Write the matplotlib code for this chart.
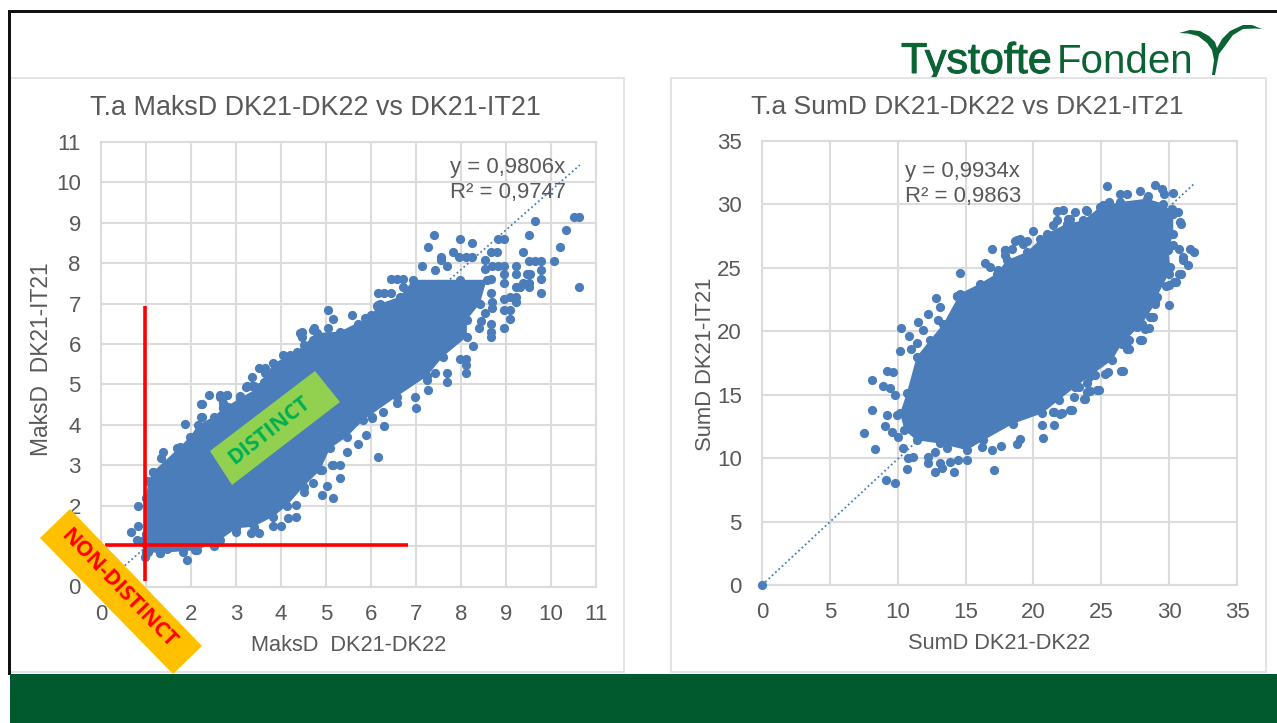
import matplotlib
matplotlib.use('Agg')
import matplotlib.pyplot as plt
import matplotlib.patheffects as pe
from matplotlib.patches import Polygon, Rectangle

plt.rcParams['font.family'] = ['Liberation Sans', 'DejaVu Sans']

GRAY = '#595959'
GRID = '#dcdcdc'
BLUE = '#4a7dba'
DARK_GREEN = '#005a2e'
LOGO_GREEN = '#0b6333'

# Left chart: outline of the dense cloud
maks_cloud_x = [1.0, 1.0, 1.05, 1.16, 1.76, 1.98, 2.16, 2.5, 2.72, 3.09, 3.53, 3.83, 4.35, 4.79, 5.31, 5.98,
                6.2, 6.64, 6.94, 7.98, 8.57, 8.42, 8.13, 8.13, 7.6, 7.24, 6.57, 5.83, 5.46, 5.09, 4.87,
                4.5, 4.13, 3.83, 3.39, 3.01, 2.64, 2.13, 1.31, 1.0, 0.8]
maks_cloud_y = [1.3, 2.2, 2.6, 2.84, 3.46, 3.71, 4.0, 4.2, 4.41, 4.66, 4.94, 5.52, 5.81, 6.27, 6.31, 6.68,
                7.0, 7.17, 7.59, 7.59, 7.59, 7.0, 6.6, 6.18, 5.69, 5.2, 4.7, 4.12, 3.7, 3.42, 2.88,
                2.47, 2.0, 1.73, 1.48, 1.44, 1.15, 0.9, 0.83, 0.85, 1.15]

# Left chart: points outside the dense cloud
maks_x = [10.63, 10.50, 9.64, 10.33, 9.51, 7.41, 7.98, 8.24, 8.83, 8.96, 7.27, 10.21, 8.67, 8.80, 9.38,
          7.83, 7.96, 8.10, 8.24, 7.55, 7.55, 8.54, 9.51, 9.64, 9.78, 10.07, 7.13, 7.42, 7.68, 8.54,
          8.68, 8.83, 8.96, 9.23, 9.78, 8.96, 9.23, 9.46, 9.53, 9.78, 8.67, 8.96, 9.38, 9.51, 9.78,
          9.23, 9.31, 9.51, 10.63, 8.67, 8.96, 9.09, 9.23, 9.23, 8.96, 9.09, 9.09, 8.68, 8.68, 8.53,
          8.44, 8.40, 8.67, 8.67, 8.67, 8.96, 8.26, 7.98, 8.12, 8.12, 8.11, 7.68, 7.68, 7.42, 7.24,
          6.99, 6.29, 5.04, 5.16, 5.58, 6.44, 6.57, 6.70, 6.16, 6.29, 6.44, 6.70, 6.16, 4.72, 4.42,
          6.02, 6.27, 6.57, 6.98, 7.27, 0.67, 0.83, 0.83, 0.98, 1.90, 1.83, 2.09, 1.37, 1.34, 1.64,
          1.68, 1.83, 1.87, 1.16, 2.24, 2.39, 2.64, 2.79, 2.24, 2.72, 3.09, 3.24, 3.39, 6.15, 5.72,
          5.88, 5.46, 5.31, 5.31, 5.16, 4.90, 5.03, 4.72, 4.50, 4.33, 4.33, 4.16, 3.99, 3.83, 3.50,
          3.33, 3.01, 2.50, 4.90, 5.16, 2.65, 2.81, 2.72, 2.83, 2.22, 2.22, 3.22, 3.36, 3.36, 3.50,
          3.65, 3.65, 3.62, 4.05, 4.20, 4.50, 4.72, 4.47, 4.47, 4.74, 5.04, 5.72, 5.87, 6.01, 6.14,
          1.05, 1.31, 1.46, 5.13, 6.02]
maks_y = [9.15, 9.15, 9.05, 8.82, 8.70, 8.70, 8.60, 8.49, 8.60, 8.60, 8.40, 8.40, 8.27, 8.27, 8.27,
          8.27, 8.16, 8.16, 8.16, 8.16, 8.07, 8.07, 8.06, 8.06, 8.06, 8.06, 7.94, 7.83, 7.94, 7.85,
          7.92, 7.94, 7.94, 7.94, 7.83, 7.73, 7.73, 7.73, 7.73, 7.61, 7.61, 7.50, 7.50, 7.50, 7.27,
          7.40, 7.40, 7.40, 7.40, 7.27, 7.11, 7.17, 7.17, 7.05, 6.84, 6.84, 6.62, 7.05, 6.89, 6.76,
          6.56, 6.39, 6.50, 6.31, 6.17, 6.39, 5.96, 5.62, 5.62, 5.48, 5.28, 5.28, 5.07, 5.28, 5.11,
          4.41, 3.97, 6.85, 6.62, 6.72, 7.61, 7.61, 7.61, 7.27, 7.27, 7.27, 7.42, 6.97, 6.35, 6.27,
          4.20, 4.33, 4.53, 4.70, 4.86, 1.34, 2.00, 1.50, 0.74, 0.65, 0.86, 0.90, 3.34, 3.17, 3.17,
          3.42, 3.38, 4.01, 2.84, 4.52, 4.74, 4.74, 4.74, 4.20, 4.53, 4.71, 4.95, 4.95, 3.20, 3.53,
          3.75, 3.34, 3.00, 2.68, 2.20, 2.26, 2.49, 2.55, 2.35, 2.02, 1.73, 1.69, 1.50, 1.50, 1.33,
          1.33, 1.34, 1.00, 2.88, 3.00, 4.70, 4.74, 4.45, 4.45, 4.52, 4.19, 4.94, 4.96, 5.19, 5.40,
          5.40, 5.29, 5.07, 5.73, 5.73, 5.98, 6.10, 6.29, 6.17, 6.39, 6.39, 6.50, 6.64, 6.72, 6.94,
          0.86, 0.82, 0.94, 3.00, 4.16]

# Right chart: outline of the dense cloud
sum_cloud_x = [10.17, 10.66, 11.4, 12.38, 13.37, 14.59, 16.06, 17.29, 18.03, 19.5, 20.98, 22.45, 23.68, 24.9,
               26.38, 28.35, 29.58, 30.3, 30.3, 29.95, 30.07, 29.97, 29.09, 28.98, 28.0, 26.53, 25.79,
               24.07, 23.09, 21.86, 20.63, 18.53, 16.31, 15.09, 13.12, 11.4, 10.5]
sum_cloud_y = [13.52, 15.1, 18.0, 19.3, 20.6, 22.97, 23.76, 24.54, 25.59, 26.25, 27.7, 28.48, 28.74, 29.79,
               30.19, 30.45, 30.06, 29.27, 27.7, 26.38, 25.07, 24.54, 22.7, 22.18, 20.6, 19.03, 17.72,
               16.4, 15.62, 14.57, 13.52, 12.73, 11.4, 10.63, 11.16, 11.4, 12.2]

# Right chart: points outside the dense cloud
sum_x = [25.4, 28.96, 29.46, 29.63, 30.27, 26.38, 26.88, 27.86, 28.47, 21.7, 22.2, 23.07, 21.7, 21.47,
         22.7, 23.9, 19.95, 16.93, 18.77, 19.26, 17.9, 18.4, 16.43, 16.8, 14.59, 12.82, 13.1, 14.4,
         31.54, 31.86, 30.76, 31.0, 31.05, 31.42, 30.7, 30.39, 29.8, 29.97, 30.8, 30.68, 10.25, 10.86,
         11.4, 10.17, 10.96, 9.19, 9.68, 8.13, 8.94, 9.44, 9.8, 8.13, 9.19, 9.98, 9.07, 9.56, 10.05,
         7.54, 8.33, 10.42, 10.79, 11.16, 10.66, 9.14, 9.8, 12.24, 12.26, 12.75, 13.12, 13.24, 14.18,
         17.08, 13.86, 14.47, 15.09, 12.75, 13.61, 16.19, 16.93, 17.62, 18.82, 19.02, 20.69, 20.6,
         21.52, 22.7, 21.97, 21.47, 24.67, 23.69, 23.93, 26.46, 24.55, 25.28, 26.93, 26.88, 11.52,
         12.26, 11.89, 13.0, 14.35, 0.0, 24.86, 26.6, 27.07, 27.07, 28.0, 28.49, 28.79, 29.97, 30.53,
         30.88, 23.77, 24.14, 25.5, 22.96, 23.33, 22.84, 22.1, 21.49, 23.95, 17.37, 17.9, 17.9, 18.64,
         19.0, 19.5, 20.49, 22.58, 23.93, 25.15, 25.57, 30.86, 30.19, 30.3, 29.95, 29.45, 28.96,
         28.59, 28.23, 27.61, 27.86, 26.95]
sum_y = [31.45, 31.55, 31.2, 30.85, 30.9, 30.8, 30.8, 31.05, 30.7, 29.45, 29.53, 29.4, 28.8, 28.35,
         28.87, 29.53, 27.9, 26.46, 27.17, 26.9, 26.4, 26.5, 25.4, 25.07, 24.6, 22.6, 21.9, 22.76,
         26.5, 26.25, 26.5, 25.86, 25.6, 25.2, 24.5, 23.9, 23.6, 22.05, 28.6, 29.4, 20.27, 19.64,
         19.1, 18.43, 18.6, 16.9, 16.8, 16.15, 15.67, 15.49, 14.97, 13.78, 13.44, 13.39, 12.52, 12.08,
         11.68, 12.0, 10.71, 10.77, 9.98, 10.1, 9.11, 8.25, 8.01, 10.11, 9.6, 8.93, 9.6, 9.19, 8.93,
         9.06, 9.72, 9.85, 9.85, 10.5, 10.77, 10.9, 10.63, 10.98, 11.08, 11.5, 11.55, 12.65, 12.6,
         13.8, 13.5, 13.65, 15.36, 14.7, 15.2, 16.88, 16.54, 16.67, 19.35, 18.64, 20.74, 21.4, 20.1,
         20.9, 22.76, 0.0, 15.36, 16.88, 18.64, 19.35, 19.35, 20.29, 21.13, 23.62, 23.89, 24.49,
         14.65, 15.3, 16.8, 14.83, 15.62, 13.78, 13.52, 13.6, 15.93, 24.86, 26.38, 26.0, 27.09, 27.25,
         27.09, 27.3, 28.87, 29.48, 29.92, 30.19, 28.48, 29.66, 26.77, 24.81, 24.41, 22.31, 21.13,
         20.21, 20.34, 19.3, 19.3]

# Trendlines
maks_trend_x = [0, 10.64]
maks_trend_y = [0, 10.43]
sum_trend_x = [0, 31.9]
sum_trend_y = [0, 31.69]

# Red threshold lines on the left chart
limit_v_x = [0.98, 0.98]
limit_v_y = [0.13, 6.95]
limit_h_x = [0.09, 6.83]
limit_h_y = [1.03, 1.03]

W, H = 1277, 723
fig = plt.figure(figsize=(W / 100, H / 100), dpi=100, facecolor='white')


def pixel_axes(left, top, right, bottom):
    return fig.add_axes([left / W, 1 - bottom / H, (right - left) / W, (bottom - top) / H])


def overlay():
    ax = pixel_axes(0, 0, W, H)
    ax.set_xlim(0, W)
    ax.set_ylim(H, 0)
    ax.axis('off')
    ax.patch.set_alpha(0)
    return ax


# Background: logo, cards, frame, footer
bg = overlay()
logo = bg.text(901, 73, 'Tystofte', color=LOGO_GREEN, fontsize=31, va='baseline', zorder=1)
logo.set_path_effects([pe.withStroke(linewidth=0.7, foreground=LOGO_GREEN)])
bg.text(1057, 73, 'Fonden', color=LOGO_GREEN, fontsize=29, va='baseline', zorder=1)
swoosh = [(1179, 33), (1190, 30), (1200, 31), (1209, 36), (1215, 42), (1217, 48), (1222, 39), (1230, 31),
          (1243, 25), (1252, 25), (1262, 29), (1255, 28.5), (1243, 29), (1233, 35), (1225, 46), (1219, 54),
          (1215, 75), (1212, 75), (1214, 60), (1212, 50), (1207, 43), (1198, 36), (1188, 33.5)]
bg.add_patch(Polygon(swoosh, color=LOGO_GREEN, lw=0, zorder=1))

for x0, x1 in [(10, 624), (671, 1266)]:
    bg.add_patch(Rectangle((x0, 78), x1 - x0, 594, fc='white', ec='#e2e2e2', lw=1.3, zorder=2))
bg.add_patch(Rectangle((8, 9.5), W, 3, color='#111111', lw=0, zorder=4))
bg.add_patch(Rectangle((8, 9.5), 3, 665, color='#111111', lw=0, zorder=4))
bg.add_patch(Rectangle((10, 674), W, 50, color=DARK_GREEN, lw=0, zorder=5))


def draw_chart(ax, cloud_x, cloud_y, xs, ys, trend_x, trend_y, lim, ticks, title, title_size, xlabel, ylabel, ylabel_size):
    ax.patch.set_alpha(0)
    ax.set_xlim(0, lim)
    ax.set_ylim(0, lim)
    ax.set_xticks(ticks)
    ax.set_yticks(ticks)
    ax.grid(True, color=GRID, lw=1.5)
    ax.set_axisbelow(True)
    for s in ax.spines.values():
        s.set_color(GRID)
        s.set_linewidth(1.5)
    ax.tick_params(axis='x', length=0, labelsize=16, labelcolor=GRAY, pad=12.5)
    ax.tick_params(axis='y', length=0, labelsize=16, labelcolor=GRAY, pad=14.5)
    ax.set_title(title, fontsize=title_size, color=GRAY, pad=19.5, x=0.433)
    ax.set_xlabel(xlabel, fontsize=15.7, color=GRAY)
    ax.set_ylabel(ylabel, fontsize=ylabel_size, color=GRAY)
    ax.xaxis.set_label_coords(0.5, -0.108)
    ax.plot(trend_x, trend_y, ls=(0, (1, 1.5)), color=BLUE, lw=1.3, zorder=2)
    ax.fill(cloud_x, cloud_y, color=BLUE, lw=0, zorder=3)
    ax.scatter(cloud_x, cloud_y, s=44, color=BLUE, lw=0, zorder=3, clip_on=False)
    ax.scatter(xs, ys, s=44, color=BLUE, lw=0, zorder=3, clip_on=False)


ax1 = pixel_axes(101, 142, 596, 586.5)
draw_chart(ax1, maks_cloud_x, maks_cloud_y, maks_x, maks_y, maks_trend_x, maks_trend_y, 11, list(range(0, 12)),
           'T.a MaksD DK21-DK22 vs DK21-IT21', 19.4, 'MaksD  DK21-DK22', 'MaksD  DK21-IT21', 16.4)
ax1.yaxis.set_label_coords(-0.097, 0.512)
ax1.text(7.76, 10.07, 'y = 0,9806x\nR² = 0,9747', fontsize=15.9, color=GRAY, va='center', zorder=4, linespacing=1.25)
ax1.plot(limit_v_x, limit_v_y, color='#ff0000', lw=2.6, zorder=5, solid_capstyle='butt')
ax1.plot(limit_h_x, limit_h_y, color='#ff0000', lw=2.6, zorder=5, solid_capstyle='butt')

ax2 = pixel_axes(762, 141, 1237, 585)
draw_chart(ax2, sum_cloud_x, sum_cloud_y, sum_x, sum_y, sum_trend_x, sum_trend_y, 35, list(range(0, 36, 5)),
           'T.a SumD DK21-DK22 vs DK21-IT21', 19.0, 'SumD DK21-DK22', 'SumD DK21-IT21', 15.8)
ax2.yaxis.set_label_coords(-0.097, 0.498)
ax2.text(10.54, 31.6, 'y = 0,9934x\nR² = 0,9863', fontsize=15.9, color=GRAY, va='center', zorder=4, linespacing=1.25)

# Banners on top of everything
top = overlay()
top.add_patch(Polygon([(315, 371), (340, 402), (232, 485), (210, 451)], color='#92d050', lw=0))
top.text(269, 431, 'DISTINCT', rotation=38, color='#00b050', fontsize=15.5, family='Open Sans', weight='bold',
         ha='center', va='center', rotation_mode='anchor')
top.add_patch(Polygon([(70, 509), (40, 538), (173, 674), (202, 646)], color='#ffc000', lw=0))
top.text(118, 589, 'NON-DISTINCT', rotation=-46, color='#ff0000', fontsize=15.5, family='Open Sans', weight='bold',
         ha='center', va='center', rotation_mode='anchor')

fig.savefig('out.png', dpi=100)
